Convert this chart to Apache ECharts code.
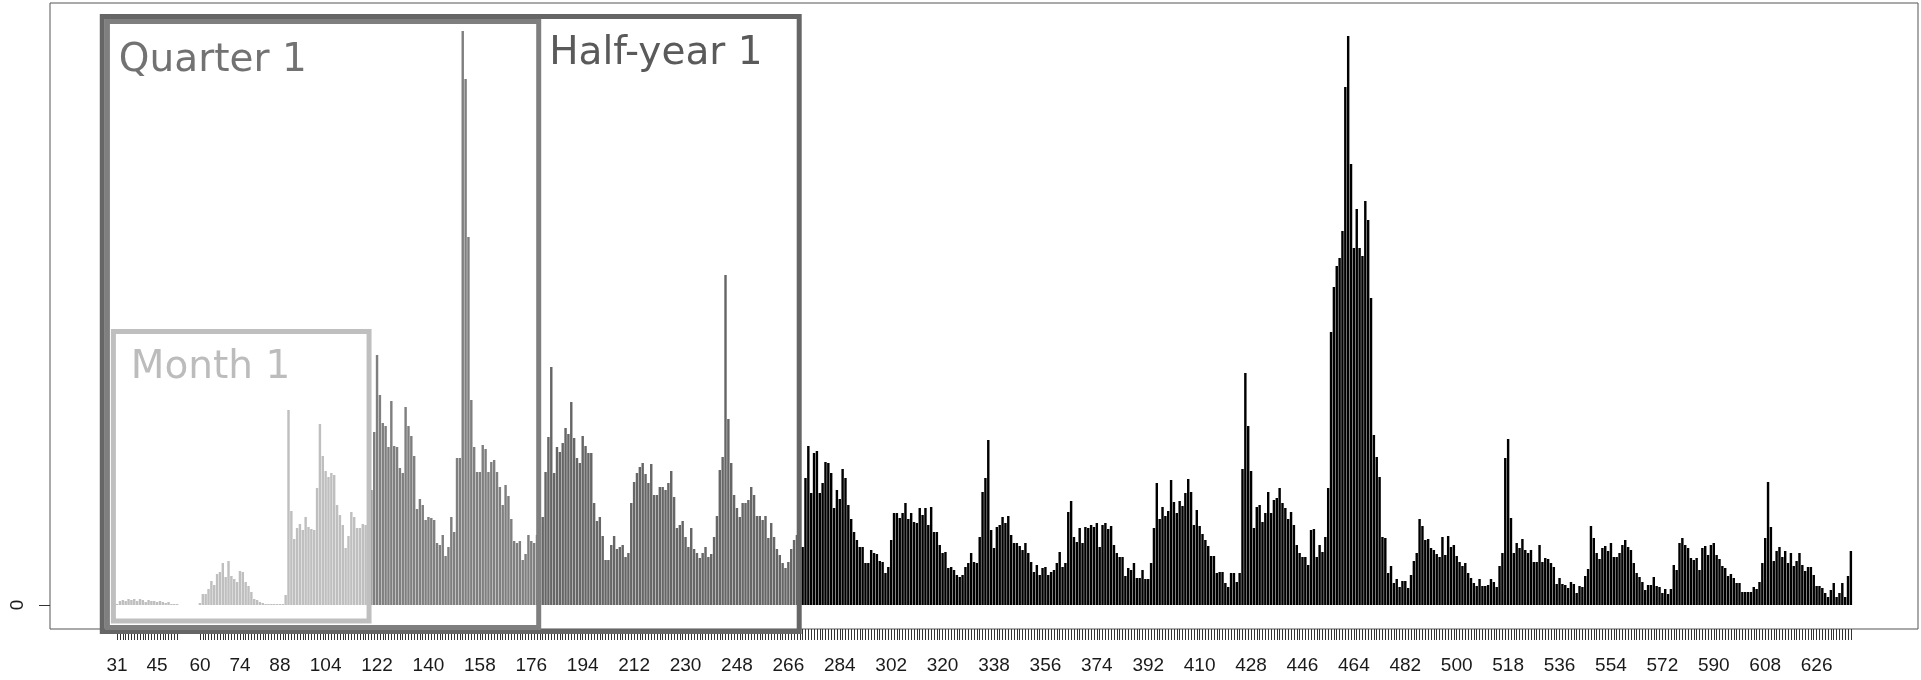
<!DOCTYPE html>
<html>
<head>
<meta charset="utf-8">
<title>Daily counts - Month 1 / Quarter 1 / Half-year 1</title>
<script src="https://cdn.jsdelivr.net/npm/echarts@6/dist/echarts.min.js"></script>
<style>
  html, body { margin: 0; padding: 0; background: #fff; }
  #chart { width: 1921px; height: 680px; }
</style>
</head>
<body>
<div id="chart"></div>
<script>
// first day that has a bar, and empty days kept on each side (R's 4% margin)
var firstDay = 31;
var padDays = 23;

// days 31-119 (light grey), days 53-59 have no data
var monthVals = [
  1, 4, 5, 4, 6, 5, 6, 4, 6, 5, 3, 5, 4, 4, 3, 4, 3, 2, 3, 1, 1, 1,
  null, null, null, null, null, null, null,
  2, 11, 11, 16, 24, 20, 31, 33, 42, 28, 44, 29, 26, 23, 34, 33, 23, 19, 13, 6, 5, 3, 2,
  1, 1, 1, 1, 1, 1, 1,
  10, 195, 94, 66, 77, 81, 75, 88, 78, 76,
  75, 117, 181, 149, 134, 128, 132, 130, 100, 90,
  80, 57, 69, 93, 88, 77, 77, 81, 80, 85
];
// days 120-179
var quarterVals = [
  115, 173, 250, 210, 182, 179, 158, 204, 159, 158,
  137, 132, 198, 179, 169, 149, 96, 106, 100, 85,
  88, 87, 85, 62, 60, 70, 49, 58, 88, 73,
  147, 147, 574, 526, 368, 205, 158, 133, 133, 160,
  156, 133, 143, 145, 133, 118, 100, 120, 109, 86,
  64, 62, 64, 45, 51, 70, 64, 62, 70, 80
];
// days 180-270
var halfVals = [
  88, 133, 168, 238, 132, 158, 153, 162, 177, 171,
  203, 167, 147, 142, 169, 159, 152, 152, 102, 84,
  88, 69, 45, 45, 60, 69, 56, 58, 60, 48,
  52, 102, 123, 132, 138, 142, 131, 122, 141, 110,
  110, 118, 118, 115, 122, 134, 108, 77, 80, 84,
  68, 58, 77, 56, 52, 47, 52, 58, 48, 51,
  68, 89, 135, 148, 330, 186, 142, 110, 97, 88,
  102, 102, 105, 118, 110, 89, 89, 85, 89, 67,
  82, 68, 56, 50, 42, 37, 43, 56, 65, 70,
  60
];
// days 271-638
var restVals = [
  58, 127, 159, 112, 152, 154, 112, 122, 143, 142,
  132, 97, 115, 106, 136, 127, 100, 86, 73, 65,
  58, 58, 42, 42, 55, 52, 51, 44, 43, 32,
  38, 65, 92, 92, 87, 92, 102, 86, 92, 83,
  82, 97, 90, 97, 80, 98, 73, 73, 60, 52,
  53, 37, 38, 35, 30, 28, 30, 38, 42, 52,
  43, 42, 68, 113, 127, 165, 75, 57, 78, 80,
  88, 82, 89, 70, 62, 62, 59, 55, 62, 52,
  43, 33, 40, 30, 37, 38, 30, 33, 35, 42,
  53, 38, 42, 93, 104, 68, 63, 77, 62, 78,
  77, 80, 78, 82, 58, 80, 82, 76,
  79, 60, 52, 48, 48, 29, 37, 35, 42, 27, 27, 35,
  26, 26, 42, 77, 122, 86, 98, 89, 94, 125,
  103, 92, 104, 99, 112, 126, 113, 80, 95, 79,
  71, 65, 59, 49, 49, 32, 33, 33, 22, 18,
  32, 32, 23, 32, 136, 232, 179, 134, 77, 98,
  100, 83, 92, 113, 92, 105, 107, 117, 102, 97,
  86, 93, 80, 60, 52, 48, 48, 40, 75, 76,
  48, 60, 53, 68, 117, 273, 318, 339, 347, 374,
  518, 569, 441, 357, 396, 357, 349, 404, 385, 307,
  170, 148, 128, 68, 67, 32, 39, 22, 26, 18,
  24, 24, 17, 30, 44, 52, 86, 79, 65, 66,
  57, 55, 51, 48, 68, 50, 69, 58, 60, 49,
  43, 39, 42, 32, 27, 22, 19, 26, 19, 19,
  20, 26, 23, 18, 39, 52, 147, 166, 87, 52,
  62, 57, 66, 55, 52, 55, 43, 43, 60, 43,
  47, 46, 42, 38, 21, 27, 21, 20, 17, 23,
  21, 12, 19, 18, 29, 36, 79, 67, 52, 46,
  57, 59, 54, 62, 48, 48, 52, 60, 65, 58,
  55, 42, 32, 28, 23, 15, 20, 20, 28, 19,
  18, 12, 16, 11, 16, 40, 35, 62, 67, 60,
  57, 47, 45, 47, 35, 57, 59, 50, 60, 62,
  50, 46, 39, 37, 29, 31, 27, 22, 22, 13,
  13, 13, 13, 18, 16, 23, 42, 67, 123, 78,
  44, 54, 58, 48, 54, 42, 52, 39, 44, 52,
  40, 34, 38, 38, 30, 19, 19, 17, 12, 8,
  15, 22, 8, 12, 22, 8, 29, 54
];
var segVals = [monthVals, quarterVals, halfVals, restVals];
var segColors = ['#bfbfbf', '#7f7f7f', '#666666', '#000000'];

var labelDays = [31, 45, 60, 74, 88, 104, 122, 140, 158, 176, 194, 212, 230, 248, 266,
  284, 302, 320, 338, 356, 374, 392, 410, 428, 446, 464, 482, 500, 518, 536, 554,
  572, 590, 608, 626];

// the three period boxes, in days and count units (edges at line centre)
var boxNames = ['Half-year 1', 'Quarter 1', 'Month 1'];
var boxColors = ['#666666', '#7f7f7f', '#bfbfbf'];
var textColors = ['#5a5a5a', '#727272', '#bcbcbc'];
var boxFrom = [25.8, 27.6, 29.7];
var boxTo = [269.8, 178.6, 119.2];
var boxTop = [588.5, 583.5, 273.5];
var boxBottom = [-26.5, -22.5, -16];
var labelAt = [[182.3, 551], [31.6, 544.5], [35.8, 237]];

// build the category list and the bars
var days = [], bars = [], tickSet = {}, labelSet = {};
var startDay = firstDay - padDays;
var nReal = 0;
segVals.forEach(function (a) { nReal += a.length; });
var lastDay = firstDay + nReal - 1;
for (var d = startDay; d <= lastDay + padDays; d++) days.push(String(d));
for (var i = 0; i < padDays; i++) bars.push(null);
var day = firstDay;
segVals.forEach(function (vals, s) {
  vals.forEach(function (v) {
    if (v === null) {
      bars.push(null);
    } else {
      bars.push({ value: v, itemStyle: { color: segColors[s] } });
      tickSet[day] = true;
    }
    day++;
  });
});
for (var i = 0; i < padDays; i++) bars.push(null);
labelDays.forEach(function (d) { labelSet[d] = true; });

var chart = echarts.init(document.getElementById('chart'));
var option = {
  animation: false,
  backgroundColor: '#ffffff',
  grid: {
    left: 50, right: 3, top: 3, bottom: 51,
    show: true, borderColor: '#555555', borderWidth: 1
  },
  xAxis: {
    type: 'category',
    data: days,
    axisLine: { show: false, onZero: false },
    axisTick: {
      show: true, alignWithLabel: true, length: 11,
      interval: function (idx, val) { return !!tickSet[val]; },
      lineStyle: { color: '#333333', width: 1 }
    },
    axisLabel: {
      interval: function (idx, val) { return !!labelSet[val]; },
      fontFamily: 'Liberation Sans', fontSize: 19, color: '#1a1a1a', margin: 27
    },
    splitLine: { show: false }
  },
  yAxis: {
    type: 'value',
    min: -24, max: 602,
    axisLine: { show: false },
    splitLine: { show: false },
    axisTick: { show: true, customValues: [0], length: 11, lineStyle: { color: '#333333' } },
    axisLabel: {
      customValues: [0], rotate: 90, margin: 23,
      fontFamily: 'Liberation Sans', fontSize: 19, color: '#1a1a1a'
    }
  },
  series: [{
    type: 'bar',
    data: bars,
    barCategoryGap: '15%',
    itemStyle: { color: '#000000' }
  }]
};
chart.setOption(option);

// boxes and their names, placed through the axes
var x0 = chart.convertToPixel({ xAxisIndex: 0 }, 0);
var pitch = chart.convertToPixel({ xAxisIndex: 0 }, 1) - x0;
function xPix(d) { return x0 + (d - startDay) * pitch; }
function yPix(v) { return chart.convertToPixel({ yAxisIndex: 0 }, v); }

var graphics = [];
boxNames.forEach(function (name, k) {
  var xa = xPix(boxFrom[k]), xb = xPix(boxTo[k]);
  var ya = yPix(boxTop[k]), yb = yPix(boxBottom[k]);
  graphics.push({
    type: 'rect', silent: true, z: 10,
    shape: { x: xa, y: ya, width: xb - xa, height: yb - ya },
    style: { fill: 'none', stroke: boxColors[k], lineWidth: 5 }
  });
  graphics.push({
    type: 'text', silent: true, z: 11,
    x: xPix(labelAt[k][0]), y: yPix(labelAt[k][1]),
    style: {
      text: name, fill: textColors[k],
      font: '39px "DejaVu Sans"', align: 'left', verticalAlign: 'middle'
    }
  });
});
chart.setOption({ graphic: graphics });
</script>
</body>
</html>
